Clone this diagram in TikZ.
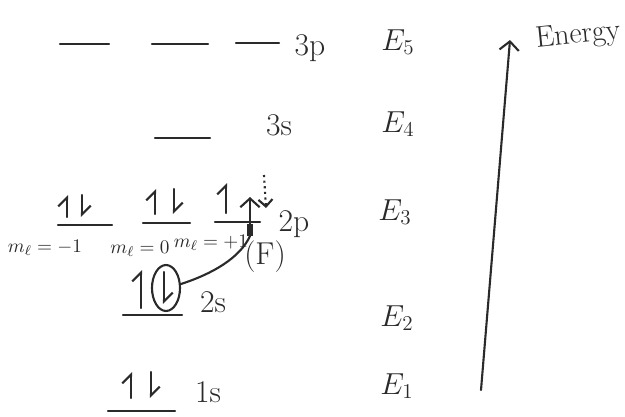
\documentclass[tikz,border=0pt]{standalone}
\usetikzlibrary{arrows.meta,shapes.geometric}
\definecolor{ink}{HTML}{2A2A2A}
\begin{document}
\begin{tikzpicture}[x=0.02cm,y=-0.02cm,
  levelline/.style={draw=ink, line width=1.3pt, line cap=round},
  lab/.style={text=ink, font=\fontsize{18}{20}\selectfont, inner sep=0pt},
  mlab/.style={text=ink, font=\fontsize{11}{13}\selectfont, inner sep=0pt},
  spin/.style={draw=ink, line width=1.2pt, line cap=round, -{Straight Barb[harpoon,length=5pt,width=10pt]}},
  bigtip/.style={draw=ink, line width=1.2pt, line cap=round, -{Straight Barb[length=5pt,width=11pt]}},
  curveline/.style={draw=ink, line width=1.2pt, line cap=round}]
\useasboundingbox (0,0) rectangle (625,416);
% 3p level
\draw[levelline] (60,44) -- (109,44);
\draw[levelline] (152,44) -- (208,44);
\draw[levelline] (236,43) -- (279,43);
\node[lab] (l3p) at (310,48) {3p};
\node[lab] (E5) at (398,42) {$E_5$};
% 3s level
\draw[levelline] (155,138) -- (210,138);
\node[lab] (l3s) at (279,125) {3s};
\node[lab] (E4) at (398,124) {$E_4$};
% 2p level
\draw[levelline] (58,225) -- (112,225);
\draw[levelline] (143,223) -- (190,223);
\draw[levelline] (215,222) -- (260,222);
\draw[spin] (67,217) -- (67,195);
\draw[spin] (82,195) -- (82,217);
\draw[spin] (155,214) -- (155,189);
\draw[spin] (174,189) -- (174,214);
\draw[spin] (226,213) -- (226,183);
\coordinate (pbot) at (250,236);
\draw[bigtip] (pbot) -- (250,197);
\draw[draw=ink, line width=3pt] (250,224) -- (pbot);
\draw[draw=ink, line width=1.2pt, dotted, -{Straight Barb[length=4pt,width=8pt]}] (264,175) -- (266,208);
\node[lab] (l2p) at (294,224) {2p};
\node[lab] (E3) at (395,212) {$E_3$};
\node[mlab] (m1) at (45,248) {$m_\ell=-1$};
\node[mlab] (m0) at (140,249) {$m_\ell=0$};
\node[mlab] (mp) at (211,243) {$m_\ell=+1$};
\node[lab] (F) at (265,257) {(F)};
% 2s level
\draw[levelline] (123,315) -- (182,315);
\draw[spin] (141,308) -- (141,270);
\node[draw=ink, line width=1.2pt, ellipse, minimum width=0.56cm, minimum height=0.92cm, inner sep=0pt] (circ) at (166,288) {};
\draw[spin] (164,272) -- (164,304);
\draw[curveline] (circ.15) .. controls (212,274) and (240,258) .. (pbot);
\node[lab] (l2s) at (213,302) {2s};
\node[lab] (E2) at (397,318) {$E_2$};
% 1s level
\draw[levelline] (108,411) -- (175,411);
\draw[spin] (131,398) -- (131,372);
\draw[spin] (151,372) -- (151,398);
\node[lab] (l1s) at (208,392) {1s};
\node[lab] (E1) at (397,386) {$E_1$};
% energy axis
\coordinate (ebot) at (481,390);
\coordinate (etop) at (510,40);
\draw[bigtip] (ebot) -- (etop);
\node[text=ink, font=\fontsize{17}{20}\selectfont, inner sep=0pt, rotate=6] (energy) at (578,36) {Energy};
\end{tikzpicture}
\end{document}
